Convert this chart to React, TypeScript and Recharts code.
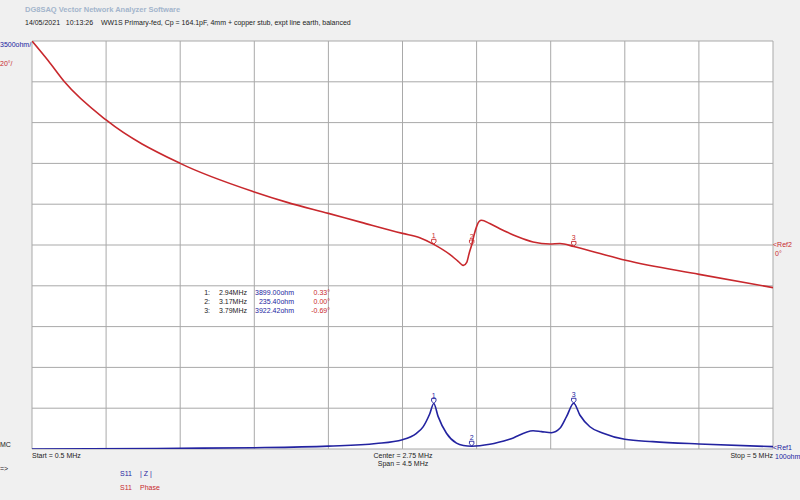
import React from "react";
import {
  LineChart,
  Line,
  XAxis,
  YAxis,
  CartesianGrid,
  ReferenceDot,
} from "recharts";

// Frequency grid (MHz) and |Z| grid (ohm)
const freqTicks = [0.5, 0.95, 1.4, 1.85, 2.3, 2.75, 3.2, 3.65, 4.1, 4.55, 5];
const zTicks = [0, 3500, 7000, 10500, 14000, 17500, 21000, 24500, 28000, 31500, 35000];
const phaseDomain = [-100, 100];

// S11 |Z| trace
const zFreq = [
  0.5, 0.85, 1.4, 1.85, 2.3, 2.59, 2.75, 2.835, 2.875, 2.915, 2.94, 2.966, 3.017,
  3.078, 3.12, 3.17, 3.28, 3.4, 3.543, 3.594, 3.655, 3.706, 3.746, 3.79, 3.827,
  3.888, 3.969, 4.1, 4.27, 4.55, 5.0,
];
const zOhm = [
  5, 10, 60, 110, 250, 470, 800, 1350, 1900, 3000, 3899, 2800, 1350, 500, 300,
  235.4, 400, 830, 1570, 1490, 1400, 1775, 2770, 3922.42, 2920, 1910, 1350, 830,
  630, 430, 200,
];

// S11 phase trace
const phFreq = [
  0.5, 0.6, 0.697, 0.95, 1.4, 1.85, 2.05, 2.3, 2.5, 2.75, 2.855, 2.94,
  3.037, 3.088, 3.12, 3.14, 3.155, 3.17, 3.185, 3.2, 3.215, 3.23, 3.28, 3.341,
  3.442, 3.543, 3.645, 3.706, 3.79, 3.95, 4.105, 4.552, 5.0,
];
const phDeg = [
  100, 90.2, 80, 61.3, 40, 26, 20.9, 15.5, 11.1, 5.7, 3.6, 0.33, -4.6, -8,
  -10, -8.5, -4, 0, 5, 9, 11.5, 12.1, 10.5, 8, 4.3, 1.5, 0.5, 0.7, -0.69, -4.2,
  -7.5, -14.4, -20.9,
];

// Markers
const markerFreq = [2.94, 3.17, 3.79];
const markerFreqLabel = ["2.94MHz", "3.17MHz", "3.79MHz"];
const markerZ = [3899.0, 235.4, 3922.42];
const markerZLabel = ["3899.00ohm", "235.40ohm", "3922.42ohm"];
const markerPhase = [0.33, 0.0, -0.69];
const markerPhaseLabel = ["0.33°", "0.00°", "-0.69°"];

const zData = zFreq.map((f, i) => ({ f, z: zOhm[i] }));
const phData = phFreq.map((f, i) => ({ f, p: phDeg[i] }));

const BLUE = "#2323a0";
const RED = "#c8282d";
const FONT = "'Liberation Sans', Arial, sans-serif";

const MarkerGlyph = (props: any) => {
  const { cx, cy, n, color } = props;
  if (cx == null || cy == null) return null;
  return (
    <g>
      <path
        d={`M${cx},${cy} L${cx - 2.2},${cy - 2.5} L${cx - 2.2},${cy - 5} L${cx + 2.2},${cy - 5} L${cx + 2.2},${cy - 2.5} Z`}
        fill="none"
        stroke={color}
        strokeWidth={0.9}
      />
      <text
        x={cx}
        y={cy - 6}
        textAnchor="middle"
        fontSize={7}
        fontFamily={FONT}
        fill={color}
      >
        {n}
      </text>
    </g>
  );
};

const T = (p: {
  x: number;
  y: number;
  c?: string;
  s?: number;
  b?: boolean;
  align?: "left" | "right" | "center";
  children: React.ReactNode;
}) => {
  const style: React.CSSProperties = {
    position: "absolute",
    top: p.y,
    whiteSpace: "pre",
    fontFamily: FONT,
    fontSize: p.s ?? 7,
    fontWeight: p.b ? "bold" : "normal",
    color: p.c ?? "#222",
    lineHeight: "9px",
  };
  if (p.align === "right") {
    style.right = 800 - p.x;
  } else if (p.align === "center") {
    style.left = p.x;
    style.transform = "translateX(-50%)";
  } else {
    style.left = p.x;
  }
  return <div style={style}>{p.children}</div>;
};

export default function App() {
  return (
    <div
      style={{
        position: "absolute",
        left: 0,
        top: 0,
        width: 800,
        height: 500,
        background: "#f0f0f0",
        overflow: "hidden",
      }}
    >
      <LineChart
        width={800}
        height={500}
        margin={{ top: 41, right: 27, bottom: 51, left: 32 }}
      >
        <CartesianGrid
          xAxisId="x"
          yAxisId="z"
          fill="#ffffff"
          stroke="#a9a9a9"
          strokeWidth={1}
        />
        <XAxis
          xAxisId="x"
          type="number"
          dataKey="f"
          domain={[0.5, 5]}
          ticks={freqTicks}
          allowDataOverflow
          hide
        />
        <YAxis
          yAxisId="z"
          type="number"
          domain={[0, 35000]}
          ticks={zTicks}
          allowDataOverflow
          hide
        />
        <YAxis
          yAxisId="p"
          type="number"
          domain={phaseDomain}
          allowDataOverflow
          hide
        />
        <Line
          xAxisId="x"
          yAxisId="z"
          data={zData}
          dataKey="z"
          type="monotone"
          stroke={BLUE}
          strokeWidth={1.6}
          dot={false}
          isAnimationActive={false}
        />
        <Line
          xAxisId="x"
          yAxisId="p"
          data={phData}
          dataKey="p"
          type="monotone"
          stroke={RED}
          strokeWidth={1.6}
          dot={false}
          isAnimationActive={false}
        />
        {markerFreq.map((f, i) => (
          <ReferenceDot
            key={"mz" + i}
            xAxisId="x"
            yAxisId="z"
            x={f}
            y={markerZ[i]}
            ifOverflow="visible"
            shape={(p: any) => <MarkerGlyph {...p} n={i + 1} color={BLUE} />}
          />
        ))}
        {markerFreq.map((f, i) => (
          <ReferenceDot
            key={"mp" + i}
            xAxisId="x"
            yAxisId="p"
            x={f}
            y={markerPhase[i]}
            ifOverflow="visible"
            shape={(p: any) => <MarkerGlyph {...p} n={i + 1} color={RED} />}
          />
        ))}
      </LineChart>

      <T x={25} y={5} c="#a3b5cc" b s={7.5}>
        DG8SAQ Vector Network Analyzer Software
      </T>
      <T x={25} y={18} c="#222">
        {"14/05/2021   10:13:26    WW1S Primary-fed, Cp = 164.1pF, 4mm + copper stub, expt line earth, balanced"}
      </T>
      <T x={0} y={40} c={BLUE}>3500ohm/</T>
      <T x={0} y={59} c={RED}>20°/</T>
      <T x={0} y={440} c="#222">MC</T>
      <T x={0} y={464} c="#222">{"=>"}</T>

      <T x={32} y={451} c="#222">Start = 0.5 MHz</T>
      <T x={403} y={451} c="#222" align="center">Center = 2.75 MHz</T>
      <T x={403} y={459} c="#222" align="center">Span = 4.5 MHz</T>
      <T x={773} y={451} c="#222" align="right">Stop = 5 MHz</T>

      <T x={773} y={443} c={BLUE}>{"<Ref1"}</T>
      <T x={775} y={452} c={BLUE}>100ohm</T>
      <T x={773} y={240} c={RED}>{"<Ref2"}</T>
      <T x={775} y={249} c={RED}>0°</T>

      <T x={120} y={469} c={BLUE}>S11</T>
      <T x={140} y={469} c={BLUE}>| Z |</T>
      <T x={120} y={483} c={RED}>S11</T>
      <T x={140} y={483} c={RED}>Phase</T>

      {markerFreq.map((_, i) => (
        <React.Fragment key={"row" + i}>
          <T x={210} y={288 + i * 9.2} c="#222" align="right">{`${i + 1}:`}</T>
          <T x={247} y={288 + i * 9.2} c="#222" align="right">{markerFreqLabel[i]}</T>
          <T x={294} y={288 + i * 9.2} c={BLUE} align="right">{markerZLabel[i]}</T>
          <T x={330} y={288 + i * 9.2} c={RED} align="right">{markerPhaseLabel[i]}</T>
        </React.Fragment>
      ))}
    </div>
  );
}
